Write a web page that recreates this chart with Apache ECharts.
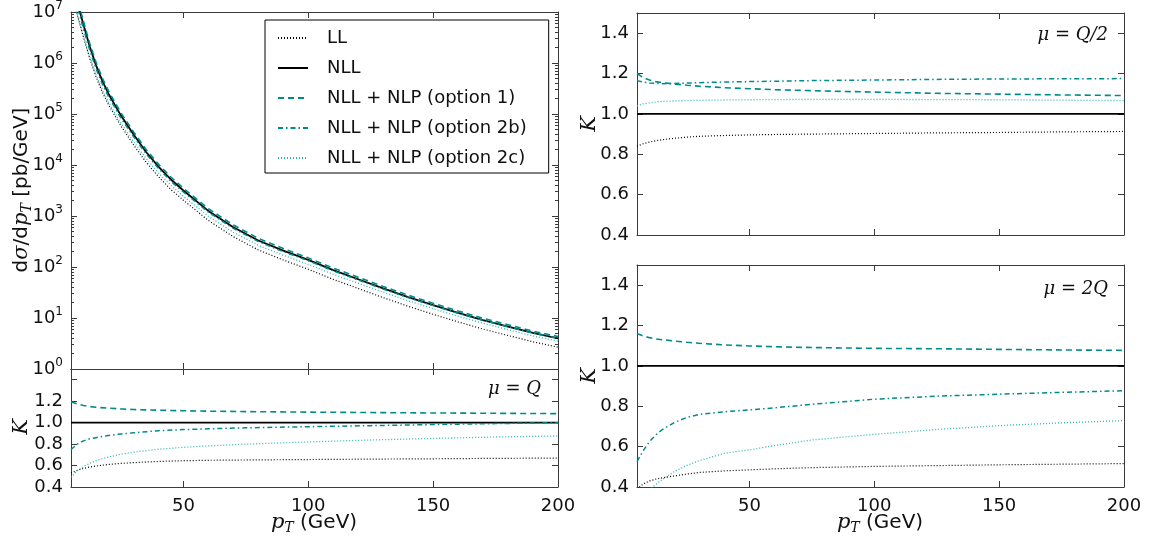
<!DOCTYPE html>
<html><head><meta charset="utf-8">
<script src="https://cdn.jsdelivr.net/npm/echarts@6/dist/echarts.min.js"></script>
<style>html,body{margin:0;padding:0;background:#fff}#c{width:1150px;height:545px}</style>
</head><body><div id="c"></div>
<script>
// ---------- data ----------
const seriesNames = ['LL', 'NLL', 'NLL + NLP (option 1)', 'NLL + NLP (option 2b)', 'NLL + NLP (option 2c)'];

// main panel: dsigma/dpT [pb/GeV]
const ptMain = [5, 7.5, 10, 12.5, 15, 17.5, 20, 25, 30, 35, 40, 45, 50, 60, 70, 80, 90, 100, 110, 120, 130, 140, 150, 160, 170, 180, 190, 200];
const sigmaNLL = [7.9e7, 1.6e7, 5.6e6, 2.1e6, 9.1e5, 4.5e5, 2.5e5, 9.3e4, 4.0e4, 1.82e4, 9.3e3, 5.2e3, 3.16e3, 1.26e3, 603, 331, 209, 138, 87, 57.5, 38, 25.7, 17.8, 12.6, 9.1, 6.8, 5.1, 4.0];
const sigmaOpt1 = [9.4e7, 1.88e7, 6.5e6, 2.42e6, 1.04e6, 5.1e5, 2.84e5, 1.05e5, 4.5e4, 2.04e4, 1.04e4, 5.8e3, 3.5e3, 1.39e3, 666, 365, 230, 151, 95.4, 63, 41.5, 28.1, 19.4, 13.7, 9.9, 7.4, 5.5, 4.34];
const sigmaOpt2b = [5.9e7, 1.28e7, 4.6e6, 1.79e6, 7.8e5, 3.9e5, 2.2e5, 8.3e4, 3.6e4, 1.67e4, 8.6e3, 4.8e3, 2.95e3, 1.19e3, 572, 315, 200, 133, 84, 55.8, 37, 25.1, 17.5, 12.4, 9.0, 6.75, 5.08, 4.0];
const sigmaOpt2c = [3.9e7, 8.8e6, 3.3e6, 1.30e6, 5.9e5, 3.0e5, 1.7e5, 6.6e4, 2.9e4, 1.35e4, 7.0e3, 4.0e3, 2.43e3, 990, 479, 266, 170, 113, 72, 48, 32, 21.8, 15.2, 10.8, 7.9, 5.9, 4.45, 3.5];
const sigmaLL = [4.2e7, 8.9e6, 3.2e6, 1.23e6, 5.4e5, 2.7e5, 1.53e5, 5.8e4, 2.5e4, 1.15e4, 5.9e3, 3.3e3, 2.04e3, 818, 393, 216, 137, 90.5, 57.2, 37.9, 25.1, 17.0, 11.8, 8.4, 6.06, 4.54, 3.41, 2.68];

// ratio panels: K factors relative to NLL
const ptRatio = [5, 7.5, 10, 12.5, 15, 20, 25, 30, 40, 50, 60, 75, 100, 125, 150, 175, 200];
const ptEdges = [5, 200];
const kNLL = [1, 1];
// mu = Q
const kQ_LL   = [0.53, 0.555, 0.573, 0.586, 0.596, 0.61, 0.62, 0.627, 0.638, 0.645, 0.649, 0.652, 0.656, 0.66, 0.663, 0.667, 0.67];
const kQ_opt1 = [1.195, 1.175, 1.16, 1.15, 1.143, 1.135, 1.128, 1.122, 1.116, 1.111, 1.107, 1.103, 1.098, 1.094, 1.09, 1.087, 1.084];
const kQ_opt2b = [0.75, 0.8, 0.83, 0.85, 0.86, 0.88, 0.895, 0.905, 0.925, 0.935, 0.942, 0.952, 0.962, 0.972, 0.982, 0.991, 1.0];
const kQ_opt2c = [0.49, 0.55, 0.59, 0.62, 0.645, 0.68, 0.705, 0.725, 0.752, 0.77, 0.783, 0.8, 0.82, 0.838, 0.853, 0.866, 0.876];
// mu = Q/2
const kH_LL   = [0.84, 0.852, 0.86, 0.867, 0.872, 0.879, 0.885, 0.889, 0.893, 0.896, 0.898, 0.9, 0.903, 0.906, 0.908, 0.911, 0.913];
const kH_opt1 = [1.2, 1.18, 1.168, 1.16, 1.155, 1.148, 1.142, 1.137, 1.13, 1.125, 1.12, 1.115, 1.108, 1.102, 1.098, 1.094, 1.091];
const kH_opt2b = [1.165, 1.158, 1.153, 1.151, 1.15, 1.151, 1.153, 1.155, 1.158, 1.16, 1.162, 1.165, 1.168, 1.171, 1.173, 1.174, 1.175];
const kH_opt2c = [1.04, 1.05, 1.055, 1.059, 1.062, 1.064, 1.066, 1.067, 1.069, 1.07, 1.071, 1.072, 1.072, 1.071, 1.07, 1.068, 1.066];
// mu = 2Q
const kD_LL   = [0.39, 0.415, 0.43, 0.439, 0.445, 0.455, 0.464, 0.472, 0.48, 0.485, 0.49, 0.496, 0.502, 0.506, 0.51, 0.513, 0.516];
const kD_opt1 = [1.16, 1.148, 1.14, 1.134, 1.13, 1.123, 1.117, 1.112, 1.104, 1.099, 1.095, 1.091, 1.087, 1.085, 1.082, 1.079, 1.077];
const kD_opt2b = [0.526, 0.58, 0.625, 0.658, 0.683, 0.72, 0.745, 0.76, 0.773, 0.782, 0.792, 0.81, 0.835, 0.85, 0.86, 0.869, 0.877];
const kD_opt2c = [0.3, 0.35, 0.385, 0.413, 0.436, 0.477, 0.507, 0.531, 0.567, 0.584, 0.605, 0.633, 0.661, 0.685, 0.704, 0.718, 0.729];

// ticks
const xTicks = [50, 100, 150, 200];
const logTicks = [1, 10, 100, 1e3, 1e4, 1e5, 1e6, 1e7];
const logMinorTicks = [];
[1, 10, 100, 1e3, 1e4, 1e5, 1e6].forEach(d => { for (let m = 2; m <= 9; m++) logMinorTicks.push(m * d); });
const kTicks = [0.4, 0.6, 0.8, 1.0, 1.2, 1.4];
const kLabelsLeft = [0.4, 0.6, 0.8, 1.0, 1.2];
const kLabelsRight = [0.4, 0.6, 0.8, 1.0, 1.2, 1.4];
const scaleLabels = ['Q', 'Q/2', '2Q'];

// ---------- styles ----------
const AX = '#3a3a3a';
const TXT = '#111';
const FONT = 'DejaVu Sans';
const TEAL = '#008b8b';
const CYAN = '#2cb5b5';
const styles = [
  { color: '#000', width: 1.2, type: [1, 2] },
  { color: '#000', width: 1.8, type: 'solid' },
  { color: TEAL, width: 1.6, type: [6, 4] },
  { color: TEAL, width: 1.5, type: [5, 3, 1.5, 3] },
  { color: CYAN, width: 1.3, type: [1, 2] }
];

const zip = (xs, ys) => xs.map((x, i) => [x, ys[i]]);

const grids = [
  { left: 71, top: 11, width: 487, height: 358 },
  { left: 71, top: 369, width: 487, height: 118 },
  { left: 637, top: 13, width: 487, height: 222 },
  { left: 637, top: 265, width: 487, height: 222 }
];

const xAxes = [], yAxes = [];
function addX(g, pos, labels) {
  xAxes.push({
    type: 'value', gridIndex: g, position: pos, min: 5, max: 200,
    axisLine: { show: true, onZero: false, lineStyle: { color: AX, width: 1 } },
    axisTick: { show: true, inside: true, length: 6, customValues: xTicks, lineStyle: { color: AX } },
    axisLabel: { show: labels, customValues: xTicks, color: TXT, fontSize: 18, fontFamily: FONT, margin: 10 },
    splitLine: { show: false }
  });
  return xAxes.length - 1;
}
function addYK(g, pos, labels, labelVals) {
  yAxes.push({
    type: 'value', gridIndex: g, position: pos, min: 0.4, max: 1.5,
    axisLine: { show: true, onZero: false, lineStyle: { color: AX, width: 1 } },
    axisTick: { show: true, inside: true, length: 6, customValues: kTicks, lineStyle: { color: AX } },
    axisLabel: { show: labels, customValues: labelVals, color: TXT, fontSize: 18, fontFamily: FONT, margin: 8,
      formatter: v => Number(v).toFixed(1) },
    splitLine: { show: false }
  });
  return yAxes.length - 1;
}
function addYLog(pos, labels, minor) {
  yAxes.push({
    type: 'log', logBase: 10, gridIndex: 0, position: pos, min: 1, max: 1e7,
    axisLine: { show: !minor, onZero: false, lineStyle: { color: AX, width: 1 } },
    axisTick: { show: true, inside: true, length: minor ? 3 : 6, customValues: minor ? logMinorTicks : logTicks, lineStyle: { color: AX } },
    axisLabel: { show: labels, customValues: logTicks, color: TXT, fontFamily: FONT, margin: 8,
      formatter: v => '{b|10}{s|' + Math.round(Math.log10(v)) + '}',
      rich: { b: { fontSize: 18, fontFamily: FONT, color: TXT }, s: { fontSize: 12, fontFamily: FONT, color: TXT, padding: [0, 0, 12, 0] } } },
    splitLine: { show: false }
  });
  return yAxes.length - 1;
}

// grid 0 (main)
const x0 = addX(0, 'bottom', false); addX(0, 'top', false);
const y0 = addYLog('left', true, false); addYLog('left', false, true); addYLog('right', false, false); addYLog('right', false, true);
// grid 1 (mu=Q)
const x1 = addX(1, 'bottom', true); addX(1, 'top', false);
const y1 = addYK(1, 'left', true, kLabelsLeft); addYK(1, 'right', false, kLabelsLeft);
// grid 2 (mu=Q/2)
const x2 = addX(2, 'bottom', false); addX(2, 'top', false);
const y2 = addYK(2, 'left', true, kLabelsRight); addYK(2, 'right', false, kLabelsRight);
// grid 3 (mu=2Q)
const x3 = addX(3, 'bottom', true); addX(3, 'top', false);
const y3 = addYK(3, 'left', true, kLabelsRight); addYK(3, 'right', false, kLabelsRight);

const series = [];
function addSet(xi, yi, sets) {
  sets.forEach((d, i) => {
    series.push({
      name: seriesNames[i], type: 'line', xAxisIndex: xi, yAxisIndex: yi,
      data: d, symbol: 'none', showSymbol: false, smooth: false, clip: true,
      lineStyle: styles[i], itemStyle: { color: styles[i].color }, animation: false, silent: true
    });
  });
}
addSet(x0, y0, [zip(ptMain, sigmaLL), zip(ptMain, sigmaNLL), zip(ptMain, sigmaOpt1), zip(ptMain, sigmaOpt2b), zip(ptMain, sigmaOpt2c)]);
addSet(x1, y1, [zip(ptRatio, kQ_LL), zip(ptEdges, kNLL), zip(ptRatio, kQ_opt1), zip(ptRatio, kQ_opt2b), zip(ptRatio, kQ_opt2c)]);
addSet(x2, y2, [zip(ptRatio, kH_LL), zip(ptEdges, kNLL), zip(ptRatio, kH_opt1), zip(ptRatio, kH_opt2b), zip(ptRatio, kH_opt2c)]);
addSet(x3, y3, [zip(ptRatio, kD_LL), zip(ptEdges, kNLL), zip(ptRatio, kD_opt1), zip(ptRatio, kD_opt2b), zip(ptRatio, kD_opt2c)]);

const SERIF = 'DejaVu Serif';
const mathRich = {
  n: { fontSize: 20, fontFamily: FONT, color: TXT },
  i: { fontSize: 21, fontFamily: SERIF, fontStyle: 'italic', color: TXT },
  sub: { fontSize: 14, fontFamily: SERIF, fontStyle: 'italic', color: TXT, padding: [10, 0, 0, 0] },
  m: { fontSize: 18, fontFamily: SERIF, fontStyle: 'italic', color: TXT },
  e: { fontSize: 18, fontFamily: SERIF, color: TXT }
};
function txt(x, y, text, align, rot) {
  return { type: 'text', x: x, y: y, rotation: rot || 0, silent: true,
    style: { text: text, rich: mathRich, align: align, verticalAlign: 'middle', fill: TXT } };
}
const scaleText = s => '{m|μ}{e| = }{m|' + s + '}';

const option = {
  backgroundColor: '#fff',
  animation: false,
  grid: grids,
  xAxis: xAxes,
  yAxis: yAxes,
  series: series,
  legend: {
    data: seriesNames, orient: 'vertical', left: 265, top: 20,
    padding: [9, 22, 6, 12], itemGap: 12, itemWidth: 30, itemHeight: 14,
    backgroundColor: '#fff', borderColor: '#000', borderWidth: 1, borderRadius: 0,
    selectedMode: false,
    itemStyle: { opacity: 0 },
    textStyle: { fontSize: 18, fontFamily: FONT, color: TXT, padding: [0, 0, 0, 14] }
  },
  graphic: [
    txt(22, 190, '{n|d}{i|σ}{n|/d}{i|p}{sub|T}{n| [pb/GeV]}', 'center', Math.PI / 2),
    txt(22, 427, '{i|K}', 'center', Math.PI / 2),
    txt(590, 124, '{i|K}', 'center', Math.PI / 2),
    txt(590, 376, '{i|K}', 'center', Math.PI / 2),
    txt(314, 523, '{i|p}{sub|T}{n| (GeV)}', 'center'),
    txt(880, 523, '{i|p}{sub|T}{n| (GeV)}', 'center'),
    txt(541, 389, scaleText(scaleLabels[0]), 'right'),
    txt(1108, 35, scaleText(scaleLabels[1]), 'right'),
    txt(1108, 289, scaleText(scaleLabels[2]), 'right')
  ]
};
const chart = echarts.init(document.getElementById('c'), null, { renderer: 'canvas' });
chart.setOption(option);
</script>
</body></html>
